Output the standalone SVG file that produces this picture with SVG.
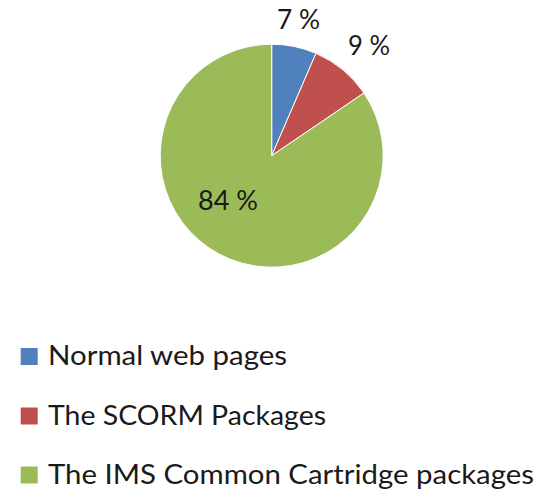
<svg xmlns="http://www.w3.org/2000/svg" width="545" height="493" viewBox="0 0 545 493">
  <style>
    .slice { stroke: #ffffff; stroke-width: 1; stroke-linejoin: round; }
    .blue { fill: #4F81BD; }
    .red { fill: #C0504D; }
    .green { fill: #9BBB59; }
    .lbl { font-family: Lato, "Open Sans", sans-serif; font-size: 27px; fill: #1a1a1a; }
  </style>
  <rect width="545" height="493" fill="#ffffff"/>

  <!-- pie chart, centre (271.7,155.7), radius 111.5 -->
  <g id="pie">
    <path id="slice-web" class="slice blue" d="M271.7,155.7 L271.7,44.2 A111.5,111.5 0 0 1 315.97,53.35 Z"/>
    <path id="slice-scorm" class="slice red" d="M271.7,155.7 L315.97,53.35 A111.5,111.5 0 0 1 363.92,93.03 Z"/>
    <path id="slice-imscc" class="slice green" d="M271.7,155.7 L363.92,93.03 A111.5,111.5 0 1 1 271.7,44.2 Z"/>
  </g>

  <!-- data labels -->
  <g id="data-labels">
    <text class="lbl" x="277" y="29" textLength="43" lengthAdjust="spacingAndGlyphs">7 %</text>
    <text class="lbl" x="348" y="55" textLength="42" lengthAdjust="spacingAndGlyphs">9 %</text>
    <text class="lbl" x="198" y="210" textLength="60" lengthAdjust="spacingAndGlyphs">84 %</text>
  </g>

  <!-- legend -->
  <g id="legend">
    <g id="legend-web">
      <rect class="blue" x="20.7" y="348" width="17" height="17"/>
      <text class="lbl" x="48" y="365" textLength="239" lengthAdjust="spacingAndGlyphs">Normal web pages</text>
    </g>
    <g id="legend-scorm">
      <rect class="red" x="20.7" y="407.5" width="17" height="17"/>
      <text class="lbl" x="48" y="424.5" textLength="278" lengthAdjust="spacingAndGlyphs">The SCORM Packages</text>
    </g>
    <g id="legend-imscc">
      <rect class="green" x="20.7" y="466.5" width="17" height="17"/>
      <text class="lbl" x="48" y="484" textLength="486" lengthAdjust="spacingAndGlyphs">The IMS Common Cartridge packages</text>
    </g>
  </g>
</svg>
